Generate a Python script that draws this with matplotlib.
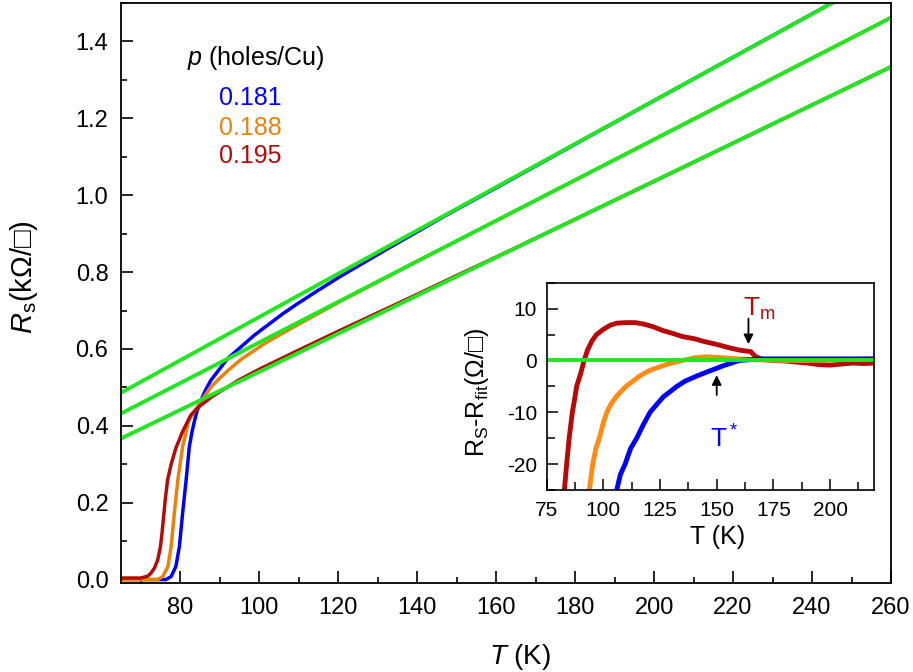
import numpy as np
import matplotlib
matplotlib.use("Agg")
import matplotlib.pyplot as plt
from matplotlib.ticker import MultipleLocator

plt.rcParams['font.family'] = ['Liberation Sans', 'DejaVu Sans']
plt.rcParams['mathtext.fontset'] = 'custom'
plt.rcParams['mathtext.rm'] = 'Liberation Sans'
plt.rcParams['mathtext.it'] = 'Liberation Sans:italic'
plt.rcParams['axes.unicode_minus'] = False

# ── main panel: sheet resistance R_s (kOhm/sq) vs T (K) ─────────
blue_T = [65, 76.4, 77.7, 78.9, 79.8, 80.6, 81.5, 82.3, 83.0, 83.6, 84.3, 85.3, 86.5, 87.8,
          92.0, 98.8, 105.9, 109.6, 114.7, 120.6, 132.4, 147, 160, 200, 245, 260]
blue_R = [0.0, 0.0, 0.008, 0.034, 0.086, 0.172, 0.259, 0.345, 0.385, 0.412, 0.440, 0.467, 0.495, 0.519,
          0.575, 0.636, 0.691, 0.717, 0.751, 0.789, 0.860, 0.946, 1.019, 1.246, 1.500, 1.584]

orange_T = [65, 74.3, 75.6, 76.9, 77.7, 78.5, 79.4, 80.6, 82.2, 85.3, 87.8, 90, 92,
            93.8, 95.3, 98.2, 101.5, 110.3, 120.6, 130, 140, 170, 200, 260]
orange_R = [0.0, 0.0, 0.008, 0.034, 0.086, 0.172, 0.259, 0.345, 0.415, 0.465, 0.501, 0.524, 0.543,
            0.559, 0.572, 0.592, 0.615, 0.666, 0.724, 0.774, 0.828, 0.986, 1.145, 1.462]

red_T = [65, 70, 71.8, 72.6, 73.5, 74.3, 75.0, 75.4, 75.8, 76.2, 76.8, 77.7, 78.9, 80.6,
         82.7, 83.8, 85, 86.3, 88.2, 91.5, 95, 100, 110, 120, 130, 140, 150, 160, 170,
         200, 260]
red_R = [0.004, 0.004, 0.009, 0.017, 0.030, 0.051, 0.086, 0.121, 0.164, 0.207, 0.259, 0.300, 0.342, 0.385,
         0.428, 0.440, 0.452, 0.462, 0.477, 0.498, 0.520, 0.547, 0.597, 0.646, 0.694, 0.742, 0.791, 0.839, 0.888,
         1.036, 1.334]

# linear fits (end points)
fit_T = [65, 260]
fit_blue = [0.486, 1.584]
fit_orange = [0.432, 1.462]
fit_red = [0.367, 1.334]

dopings = ["0.181", "0.188", "0.195"]

# ── inset: R_s - R_fit (Ohm/sq) ──────────────────────────────────
in_red_T = [82.0, 82.8, 83.8, 84.9, 86.3, 87.5, 88.2, 90, 91.5, 93, 95, 97, 100, 103, 106,
            110, 114, 118, 122, 126, 130, 135, 140, 145, 150, 155, 160, 165, 167, 170,
            175, 180, 185, 190, 195, 200, 205, 210, 215, 219]
in_red_dR = [-28, -25, -20, -15, -10, -7, -5, -2.5, 0, 2, 3.8, 5, 6, 6.8, 7.2,
             7.3, 7.3, 7.0, 6.5, 5.8, 5.3, 4.6, 4.2, 3.6, 3.1, 2.5, 2.0, 1.7, 0.8, 0.2,
             0, -0.1, -0.3, -0.5, -0.8, -0.9, -0.7, -0.5, -0.6, -0.5]

in_orange_T = [93.3, 93.8, 95.3, 96.7, 98.2, 100, 101.5, 103.5, 106, 110, 113, 116, 120,
               125, 130, 135, 140, 145, 150, 160, 170, 180, 190, 200, 210, 219]
in_orange_dR = [-28, -25, -20, -17, -15, -12, -10, -8.3, -6.8, -5, -4, -3, -2,
                -1.2, -0.5, 0, 0.5, 0.7, 0.6, 0.3, 0.1, 0, 0, 0.1, 0.2, 0.3]

in_blue_T = [105.3, 105.9, 107.5, 109.6, 112, 114.7, 117.5, 120.6, 123.5, 126.5, 129.5,
             132.4, 136, 141.2, 147, 153, 160, 170, 180, 190, 200, 210, 219]
in_blue_dR = [-28, -25, -22, -20, -17, -15, -12.5, -10, -8.5, -7, -6,
              -5, -4, -3, -2, -1, 0, 0.3, 0.3, 0.3, 0.3, 0.3, 0.3]

c_blue = "#0000ff"
c_orange = "#e8820c"
c_red = "#b30a0a"
c_green = "#22e622"

fig = plt.figure(figsize=(9.13, 6.72), dpi=100)
ax = fig.add_axes([0.1325, 0.1324, 0.8434, 0.8631])

ax.plot(blue_T, blue_R, color=c_blue, lw=2.5)
ax.plot(orange_T, orange_R, color=c_orange, lw=2.5)
ax.plot(red_T, red_R, color=c_red, lw=2.5)
for fit in [fit_blue, fit_orange, fit_red]:
    ax.plot(fit_T, fit, color=c_green, lw=2.8)

ax.set_xlim(65, 260)
ax.set_ylim(-0.009, 1.5)
ax.xaxis.set_major_locator(MultipleLocator(20))
ax.xaxis.set_minor_locator(MultipleLocator(10))
ax.yaxis.set_major_locator(MultipleLocator(0.2))
ax.yaxis.set_minor_locator(MultipleLocator(0.1))
ax.xaxis.set_major_formatter(plt.FuncFormatter(lambda v, p: f"{v:.0f}"))
ax.yaxis.set_major_formatter(plt.FuncFormatter(lambda v, p: f"{v:.1f}"))
ax.tick_params(which="both", direction="in", top=False, right=False, labelsize=17, width=1.2)
ax.tick_params(which="major", length=8.5)
ax.tick_params(which="minor", length=4.5)
ax.tick_params(axis="y", pad=9)
ax.tick_params(axis="x", pad=10)
for sp in ax.spines.values():
    sp.set_linewidth(1.3)

fig.text(24 / 913, 1 - 277 / 672, r"$\it{R}_{\rm s}$(kΩ/□)", rotation=90,
         ha="center", va="center", fontsize=21)
fig.text(520 / 913, 1 - 657 / 672, r"$\it{T}$ (K)", ha="center", va="center", fontsize=20)

ax.text(81.7, 1.358, r"$\it{p}$ (holes/Cu)", ha="left", va="center", fontsize=18)
for lab, yy, col in zip(dopings, [1.254, 1.176, 1.101], [c_blue, c_orange, c_red]):
    ax.text(97.7, yy, lab, ha="center", va="center", fontsize=18, color=col)

# ── inset ────────────────────────────────────────────────────────
ins = fig.add_axes([0.5988, 0.2708, 0.3585, 0.3085])
ins.plot(in_red_T, in_red_dR, color="#b80808", lw=3.5)
ins.plot(in_orange_T, in_orange_dR, color="#ff8a14", lw=3.5)
ins.plot(in_blue_T, in_blue_dR, color=c_blue, lw=3.5)
ins.axhline(0, color=c_green, lw=2.8)

ins.set_xlim(75, 219.4)
ins.set_ylim(-25, 15)
ins.xaxis.set_major_locator(MultipleLocator(25))
ins.xaxis.set_minor_locator(MultipleLocator(12.5))
ins.yaxis.set_major_locator(MultipleLocator(10))
ins.yaxis.set_minor_locator(MultipleLocator(5))
ins.tick_params(which="both", direction="in", top=False, right=False, labelsize=15, width=1.1)
ins.tick_params(which="major", length=8)
ins.tick_params(which="minor", length=5.5)
ins.tick_params(axis="y", pad=7)
ins.tick_params(axis="x", pad=8)
for sp in ins.spines.values():
    sp.set_linewidth(1.2)
ins.set_xlabel("T (K)", fontsize=18)
ins.set_ylabel(r"R$_\mathrm{S}$-R$_\mathrm{fit}$(Ω/□)", fontsize=18)
ins.xaxis.set_label_coords(0.523, -0.17)
ins.yaxis.set_label_coords(-0.17, 0.47)

ins.annotate("", xy=(164, 2.6), xytext=(164, 8.6),
             arrowprops=dict(arrowstyle="-|>", color="k", lw=1.3, mutation_scale=14))
ins.text(161.5, 8.7, r"T$_\mathrm{m}$", color=c_red, fontsize=19, ha="left", va="baseline")
ins.annotate("", xy=(150, -2.3), xytext=(150, -7.2),
             arrowprops=dict(arrowstyle="-|>", color="k", lw=1.3, mutation_scale=14))
ins.text(147, -16.8, r"T$^*$", color=c_blue, fontsize=19, ha="left", va="baseline")

plt.savefig("out.png", dpi=100)
